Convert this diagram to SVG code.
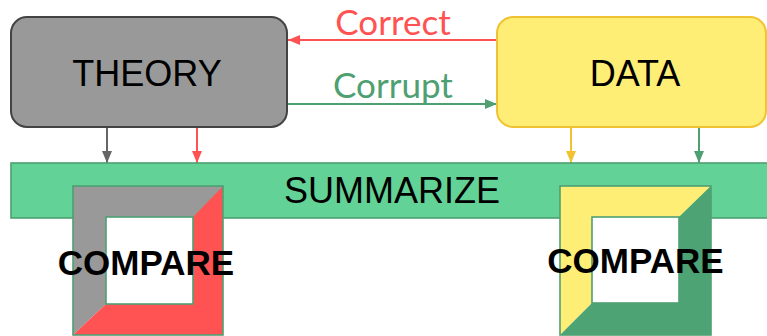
<svg xmlns="http://www.w3.org/2000/svg" width="767" height="336" viewBox="0 0 767 336">
  <style>
    .label { font-family: "Liberation Sans", Arial, sans-serif; font-size: 36px; fill: #000; text-anchor: middle; }
    .edge-label { font-family: Lato, "Liberation Sans", sans-serif; font-size: 35px; text-anchor: middle; }
    .compare { font-family: "Liberation Sans", Arial, sans-serif; font-weight: bold; font-size: 35px; fill: #000; text-anchor: middle; }
    .frame-line { fill: none; stroke: #4ea072; stroke-width: 1.6; }
  </style>
  <defs>
    <marker id="head-red" markerWidth="12" markerHeight="10" refX="12" refY="5" orient="auto" markerUnits="userSpaceOnUse">
      <path d="M0,0 L12,5 L0,10 Z" fill="#ff5252"/>
    </marker>
    <marker id="head-green" markerWidth="12" markerHeight="10" refX="12" refY="5" orient="auto" markerUnits="userSpaceOnUse">
      <path d="M0,0 L12,5 L0,10 Z" fill="#4ea072"/>
    </marker>
    <marker id="head-gray" markerWidth="12" markerHeight="10" refX="12" refY="5" orient="auto" markerUnits="userSpaceOnUse">
      <path d="M0,0 L12,5 L0,10 Z" fill="#666666"/>
    </marker>
    <marker id="head-yellow" markerWidth="12" markerHeight="10" refX="12" refY="5" orient="auto" markerUnits="userSpaceOnUse">
      <path d="M0,0 L12,5 L0,10 Z" fill="#f1c232"/>
    </marker>
  </defs>

  <!-- connectors -->
  <g id="connectors" stroke-width="2" fill="none">
    <line x1="497" y1="40" x2="288" y2="40" stroke="#ff5252" marker-end="url(#head-red)"/>
    <line x1="288" y1="104" x2="497" y2="104" stroke="#4ea072" marker-end="url(#head-green)"/>
    <line x1="107" y1="128" x2="107" y2="163" stroke="#666666" marker-end="url(#head-gray)"/>
    <line x1="197" y1="128" x2="197" y2="163" stroke="#ff5252" marker-end="url(#head-red)"/>
    <line x1="571" y1="128" x2="571" y2="163" stroke="#f1c232" marker-end="url(#head-yellow)"/>
    <line x1="699" y1="128" x2="699" y2="163" stroke="#4ea072" marker-end="url(#head-green)"/>
    <text class="edge-label" x="393" y="35" fill="#ff5252">Correct</text>
    <text class="edge-label" x="393" y="98" fill="#4ea072">Corrupt</text>
  </g>

  <g id="theory">
    <rect x="11" y="17" width="276" height="110" rx="16" fill="#999999" stroke="#434343" stroke-width="2"/>
    <text class="label" x="147" y="86">THEORY</text>
  </g>

  <g id="data">
    <rect x="497" y="17" width="269" height="110" rx="16" fill="#ffee75" stroke="#f1c232" stroke-width="2"/>
    <text class="label" x="635" y="86">DATA</text>
  </g>

  <g id="summarize">
    <rect x="11" y="163" width="770" height="55" fill="#63d297" stroke="#4ea072" stroke-width="1.6"/>
    <text class="label" x="392" y="203">SUMMARIZE</text>
  </g>

  <g id="compare-theory">
    <polygon points="73,186 223,186 193,217 106,217 106,304 73,335" fill="#999999"/>
    <polygon points="223,186 223,335 73,335 106,304 193,304 193,217" fill="#ff5252"/>
    <rect class="frame-line" x="73" y="186" width="150" height="149"/>
    <rect class="frame-line" x="106" y="217" width="87" height="87" style="fill:#ffffff"/>
    <text class="compare" x="146" y="275">COMPARE</text>
  </g>

  <g id="compare-data">
    <polygon points="560,186 711,186 679,217 592,217 592,303 560,335" fill="#ffee75"/>
    <polygon points="711,186 711,335 560,335 592,303 679,303 679,217" fill="#4ea374"/>
    <rect class="frame-line" x="560" y="186" width="151" height="149"/>
    <rect class="frame-line" x="592" y="217" width="87" height="86" style="fill:#ffffff"/>
    <text class="compare" x="635.5" y="273">COMPARE</text>
  </g>
</svg>
